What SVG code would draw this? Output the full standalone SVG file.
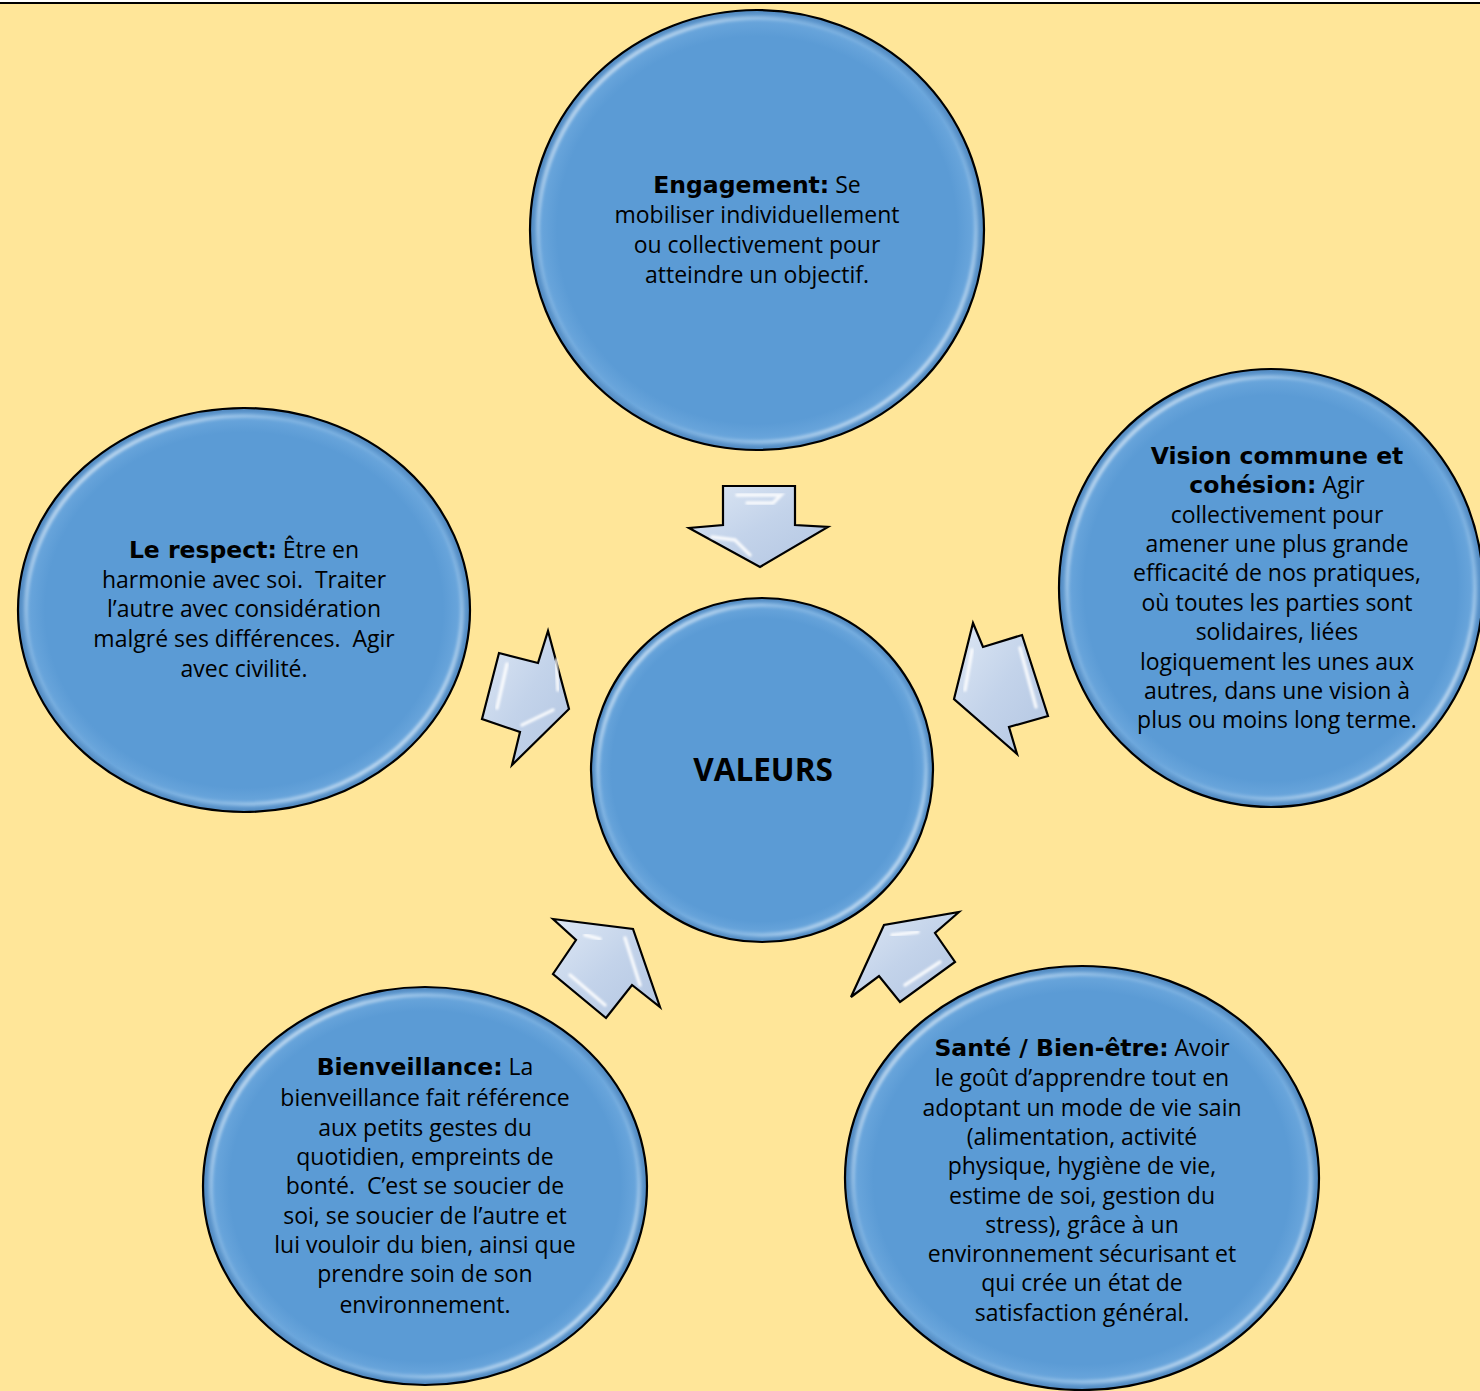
<svg xmlns="http://www.w3.org/2000/svg" width="1480" height="1391" viewBox="0 0 1480 1391">
<defs>
<radialGradient id="ballFill" cx="50%" cy="50%" r="50%">
<stop offset="0%" stop-color="#5b9bd5"/>
<stop offset="88%" stop-color="#5b9bd5"/>
<stop offset="96%" stop-color="#6aa6dc"/>
<stop offset="100%" stop-color="#4f86bd"/>
</radialGradient>
<linearGradient id="gloss" x1="0" y1="0" x2="1" y2="1">
<stop offset="0%" stop-color="#ffffff" stop-opacity="0.9"/>
<stop offset="30%" stop-color="#ffffff" stop-opacity="0.15"/>
<stop offset="55%" stop-color="#ffffff" stop-opacity="0"/>
<stop offset="72%" stop-color="#ffffff" stop-opacity="0.2"/>
<stop offset="100%" stop-color="#ffffff" stop-opacity="0.9"/>
</linearGradient>
<linearGradient id="arrowFill" x1="0" y1="0" x2="1" y2="1">
<stop offset="0%" stop-color="#dde7f4"/>
<stop offset="50%" stop-color="#c3d3ea"/>
<stop offset="100%" stop-color="#b3c6e2"/>
</linearGradient>
<filter id="soft" x="-5%" y="-5%" width="110%" height="110%">
<feGaussianBlur stdDeviation="1.5"/>
</filter>
<filter id="soft2" x="-20%" y="-20%" width="140%" height="140%">
<feGaussianBlur stdDeviation="0.8"/>
</filter>
</defs>
<style>
.ball{fill:url(#ballFill);stroke:#000;stroke-width:2.2}
.gl{fill:none;stroke:url(#gloss);stroke-width:4;filter:url(#soft)}
.arr{fill:url(#arrowFill);stroke:#000;stroke-width:2.2;stroke-linejoin:miter}
.hl{fill:none;stroke:#ffffff;stroke-width:3.5;stroke-opacity:0.85;stroke-linecap:round;filter:url(#soft2)}
.t{font-family:"Open Sans","Noto Sans","DejaVu Sans",sans-serif;font-size:23px;fill:#000;text-anchor:middle}
.b{font-family:"DejaVu Sans","Verdana",sans-serif;font-weight:bold;font-size:23.5px}
.v{font-family:"Open Sans","Noto Sans",sans-serif;font-weight:bold;font-size:31.5px;fill:#000;text-anchor:middle}
</style>
<rect x="0" y="0" width="1480" height="1391" fill="#ffe699"/>
<rect x="0" y="0" width="1480" height="2" fill="#ffffff"/>
<rect x="0" y="2" width="1480" height="2" fill="#000000"/>

<g id="connectors">
<polygon class="arr" points="723,486 795,486 795,525 828,527 760,567 689,528 723,525"/>
<polyline class="hl" points="737,495 781,495 773,503 747,503"/>
<polyline class="hl" points="712,537 735,540 750,555"/>
<polygon class="arr" points="499,653 538,663 548,631 569,709 512,765 520,732 482,719"/>
<polyline class="hl" points="507,664 497,708"/>
<polyline class="hl" points="556,660 558,690"/>
<polyline class="hl" points="522,725 553,710"/>
<polygon class="arr" points="973,623 983,647 1022,635 1048,716 1009,727 1017,754 954,699"/>
<polyline class="hl" points="1020,648 1036,707"/>
<polyline class="hl" points="972,650 965,690"/>
<polygon class="arr" points="553,919 633,929 660,1007 632,985 606,1018 553,974 576,940"/>
<polyline class="hl" points="585,935 600,939"/>
<polyline class="hl" points="625,938 640,985"/>
<polyline class="hl" points="570,975 605,1005"/>
<polygon class="arr" points="959,912 935,933 955,962 900,1002 879,976 851,997 884,925"/>
<polyline class="hl" points="892,935 918,932"/>
<polyline class="hl" points="905,985 940,962"/>
</g>

<g id="node-engagement">
<ellipse class="ball" cx="757" cy="230" rx="227" ry="220"/>
<ellipse class="gl" cx="757" cy="230" rx="219" ry="212"/>
<text class="t" x="757" y="193"><tspan class="b">Engagement:</tspan> Se</text>
<text class="t" x="757" y="223">mobiliser individuellement</text>
<text class="t" x="757" y="253">ou collectivement pour</text>
<text class="t" x="757" y="283">atteindre un objectif.</text>
</g>

<g id="node-valeurs">
<ellipse class="ball" cx="762" cy="770" rx="171" ry="172"/>
<ellipse class="gl" cx="762" cy="770" rx="164" ry="165"/>
<text class="v" x="763" y="781">VALEURS</text>
</g>

<g id="node-respect">
<ellipse class="ball" cx="244" cy="610" rx="226" ry="202"/>
<ellipse class="gl" cx="244" cy="610" rx="218" ry="194"/>
<text class="t" x="244" y="558"><tspan class="b">Le respect:</tspan> Être en</text>
<text class="t" x="244" y="588" xml:space="preserve">harmonie avec soi.  Traiter</text>
<text class="t" x="244" y="617">l’autre avec considération</text>
<text class="t" x="244" y="647" xml:space="preserve">malgré ses différences.  Agir</text>
<text class="t" x="244" y="677">avec civilité.</text>
</g>

<g id="node-vision">
<ellipse class="ball" cx="1271" cy="588" rx="212" ry="219"/>
<ellipse class="gl" cx="1271" cy="588" rx="204" ry="211"/>
<text class="t" x="1277" y="464"><tspan class="b">Vision commune et</tspan></text>
<text class="t" x="1277" y="493"><tspan class="b">cohésion:</tspan> Agir</text>
<text class="t" x="1277" y="523">collectivement pour</text>
<text class="t" x="1277" y="552">amener une plus grande</text>
<text class="t" x="1277" y="581">efficacité de nos pratiques,</text>
<text class="t" x="1277" y="611">où toutes les parties sont</text>
<text class="t" x="1277" y="640">solidaires, liées</text>
<text class="t" x="1277" y="670">logiquement les unes aux</text>
<text class="t" x="1277" y="699">autres, dans une vision à</text>
<text class="t" x="1277" y="728">plus ou moins long terme.</text>
</g>

<g id="node-bienveillance">
<ellipse class="ball" cx="425" cy="1186" rx="222" ry="199"/>
<ellipse class="gl" cx="425" cy="1186" rx="214" ry="191"/>
<text class="t" x="425" y="1075"><tspan class="b">Bienveillance:</tspan> La</text>
<text class="t" x="425" y="1106">bienveillance fait référence</text>
<text class="t" x="425" y="1136">aux petits gestes du</text>
<text class="t" x="425" y="1165">quotidien, empreints de</text>
<text class="t" x="425" y="1194" xml:space="preserve">bonté.  C’est se soucier de</text>
<text class="t" x="425" y="1224">soi, se soucier de l’autre et</text>
<text class="t" x="425" y="1253">lui vouloir du bien, ainsi que</text>
<text class="t" x="425" y="1282">prendre soin de son</text>
<text class="t" x="425" y="1313">environnement.</text>
</g>

<g id="node-sante">
<ellipse class="ball" cx="1082" cy="1178" rx="237" ry="212"/>
<ellipse class="gl" cx="1082" cy="1178" rx="229" ry="204"/>
<text class="t" x="1082" y="1056"><tspan class="b">Santé / Bien-être:</tspan> Avoir</text>
<text class="t" x="1082" y="1086">le goût d’apprendre tout en</text>
<text class="t" x="1082" y="1116">adoptant un mode de vie sain</text>
<text class="t" x="1082" y="1145">(alimentation, activité</text>
<text class="t" x="1082" y="1174">physique, hygiène de vie,</text>
<text class="t" x="1082" y="1204">estime de soi, gestion du</text>
<text class="t" x="1082" y="1233">stress), grâce à un</text>
<text class="t" x="1082" y="1262">environnement sécurisant et</text>
<text class="t" x="1082" y="1291">qui crée un état de</text>
<text class="t" x="1082" y="1321">satisfaction général.</text>
</g>
</svg>
